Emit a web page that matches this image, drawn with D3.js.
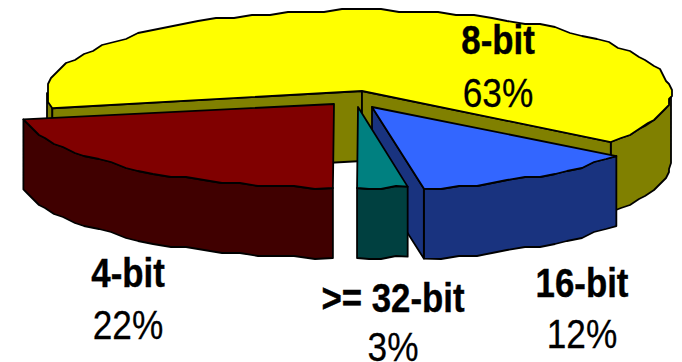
<!DOCTYPE html>
<html>
<head>
<meta charset="utf-8">
<script src="https://cdn.jsdelivr.net/npm/d3@7"></script>
<style>
  html, body { margin: 0; background: #fff; }
  svg { display: block; }
  text { font-family: "Liberation Sans", Arial, sans-serif; fill: #000; }
</style>
</head>
<body>
<svg id="chart" width="682" height="362"></svg>
<script>
// Share of microcontroller word sizes, as an exploded 3D pie.
const categories = ["8-bit", "16-bit", ">= 32-bit", "4-bit"];
const shares = [63, 12, 3, 22];

const topColors = ["#ffff00", "#3366ff", "#008080", "#800000"];
const sideColors = ["#808000", "#19337f", "#004040", "#400000"];

// Pivot of each exploded wedge, the centre and radii of its rim, label placement.
const pivots = [[362, 91], [372, 107], [358, 107], [334, 104]];
const rimCentres = [[359, 93], [367, 107], [358, 107], [334, 104]];
const rimRadii = [[312, 83], [309, 83], [270, 81], [316, 84]];
const labelSpots = [[498, 53.5, 106.5], [582, 296.5, 347.5], [393, 311.5, 360.5], [128, 287, 339]];

const depth = 70;
const grid = 3;
const rad = Math.PI / 180;

const pie = d3.pie().sort(null)
  .startAngle(-100.6 * rad)
  .endAngle(259.4 * rad);
const slices = pie(shares);

const svg = d3.select("#chart");
const outline = d3.line();

// Point on the tilted rim for a pie angle measured clockwise from the top.
const rimPoint = (i, a) => {
  const [cx, cy] = rimCentres[i];
  const [rx, ry] = rimRadii[i];
  return [cx + rx * Math.sin(a), cy - ry * Math.cos(a)];
};

// The rim is coarsely faceted and snapped to a grid, giving its stepped edge.
const rim = (i, a0, a1) => {
  const n = Math.max(2, Math.ceil((a1 - a0) / (3.5 * rad)));
  const pts = d3.range(n + 1).map(k => {
    const p = rimPoint(i, a0 + (a1 - a0) * k / n);
    return (k === 0 || k === n) ? p
      : [Math.round(p[0] / grid) * grid, Math.round(p[1] / grid) * grid];
  });
  return pts.filter((p, k) => k === 0 || p[0] !== pts[k - 1][0] || p[1] !== pts[k - 1][1]);
};

const drop = p => [p[0], p[1] + depth];

const draw = (pts, fill) => svg.append("path")
  .attr("d", outline(pts) + "Z")
  .attr("fill", fill)
  .attr("stroke", "#000")
  .attr("stroke-width", 1.8)
  .attr("stroke-linejoin", "round");

slices.forEach((s, i) => {
  const side = sideColors[i];
  const apex = pivots[i];
  // Outer wall: only the parts of the rim on the viewer's side of the pie.
  [[90, 270], [-270, -90], [450, 630]].forEach(([lo, hi]) => {
    const a0 = Math.max(s.startAngle, lo * rad);
    const a1 = Math.min(s.endAngle, hi * rad);
    if (a1 > a0) {
      const edge = rim(i, a0, a1);
      draw(edge.concat(edge.map(drop).reverse()), side);
    }
  });
  // Cut faces that look toward the viewer.
  if (Math.sin(s.startAngle) < -0.01) {
    const p = rimPoint(i, s.startAngle);
    draw([apex, p, drop(p), drop(apex)], side);
  }
  if (Math.sin(s.endAngle) > 0.01) {
    const p = rimPoint(i, s.endAngle);
    draw([apex, p, drop(p), drop(apex)], side);
  }
  // Top surface.
  draw([apex].concat(rim(i, s.startAngle, s.endAngle)), topColors[i]);
});

// Category name above its percentage.
labelSpots.forEach(([x, y1, y2], i) => {
  svg.append("text")
    .attr("transform", `translate(${x},${y1}) scale(0.87,1)`)
    .attr("text-anchor", "middle")
    .attr("font-size", 40)
    .attr("font-weight", "bold")
    .attr("stroke", "#000")
    .attr("stroke-width", 0.4)
    .text(categories[i]);
  svg.append("text")
    .attr("transform", `translate(${x},${y2}) scale(0.86,1)`)
    .attr("text-anchor", "middle")
    .attr("font-size", 41)
    .attr("stroke", "#000")
    .attr("stroke-width", 0.25)
    .text(shares[i] + "%");
});
</script>
</body>
</html>
